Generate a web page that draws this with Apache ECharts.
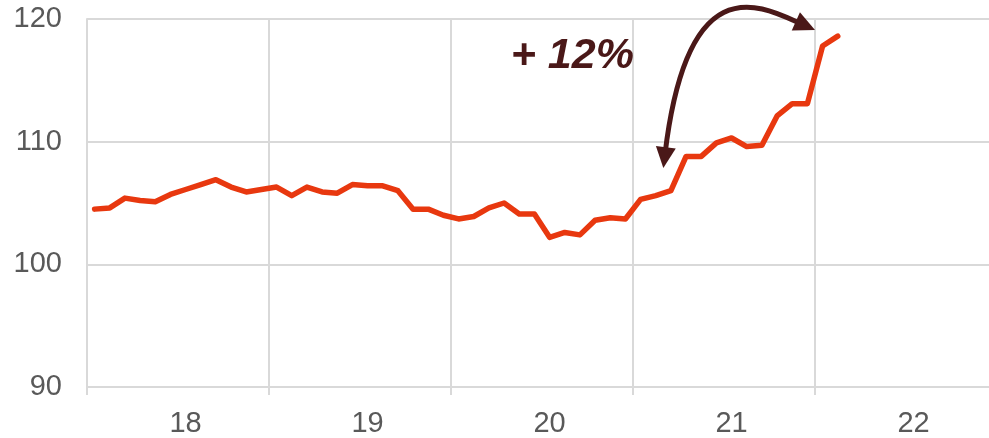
<!DOCTYPE html>
<html><head><meta charset="utf-8">
<script src="https://cdn.jsdelivr.net/npm/echarts@6/dist/echarts.min.js"></script>
<style>html,body{margin:0;padding:0;background:#fff}#c{width:989px;height:438px}</style>
</head><body><div id="c"></div>
<script>
// tick labels (years) and monthly categories
const yearLabels = ['18', '19', '20', '21', '22'];
const monthNames = ['01','02','03','04','05','06','07','08','09','10','11','12'];
const categories = [];
yearLabels.forEach(y => monthNames.forEach(m => categories.push('20' + y + '-' + m)));

// monthly index values, Jan 2018 .. Feb 2022
const values = [
  104.5, 104.6, 105.4, 105.2, 105.1, 105.7, 106.1, 106.5, 106.9, 106.3, 105.9, 106.1,
  106.3, 105.6, 106.3, 105.9, 105.8, 106.5, 106.4, 106.4, 106.0, 104.5, 104.5, 104.0,
  103.7, 103.9, 104.6, 105.0, 104.1, 104.1, 102.2, 102.6, 102.4, 103.6, 103.8, 103.7,
  105.3, 105.6, 106.0, 108.8, 108.8, 109.9, 110.3, 109.6, 109.7, 112.1, 113.1, 113.1,
  117.8, 118.6
];
const yTicks = [90, 100, 110, 120];

// annotation (category index, value)
const annotationText = '+ 12%';
const annotationPos = [31.5, 117.0];
const arrowFrom = [37.5, 107.85];
const arrowCtrl1 = [39.1, 124.4];
const arrowCtrl2 = [43.9, 121.1];
const arrowTo = [47.5, 119.1];

const gridColor = '#d9d9d9';
const labelColor = '#595959';
const lineColor = '#E8380F';
const annoColor = '#4a1818';
const fontFam = '"Liberation Sans", Arial, sans-serif';

const chart = echarts.init(document.getElementById('c'), null, {renderer: 'canvas'});
chart.setOption({
  animation: false,
  grid: {left: 87, right: -8, top: 19, bottom: 51, containLabel: false, outerBoundsMode: 'none'},
  xAxis: {
    type: 'category',
    data: categories,
    boundaryGap: true,
    axisLine: {show: true, lineStyle: {color: gridColor, width: 2}},
    axisTick: {show: true, length: 8, interval: (i) => i % 12 === 0, lineStyle: {color: gridColor, width: 2}},
    splitLine: {show: true, interval: (i) => i % 12 === 0, lineStyle: {color: gridColor, width: 2}},
    axisLabel: {
      interval: (i) => i % 12 === 6,
      formatter: (v) => v.slice(2, 4),
      color: labelColor, fontSize: 29, fontFamily: fontFam, margin: 22
    }
  },
  yAxis: {
    type: 'value', min: yTicks[0], max: yTicks[yTicks.length - 1], interval: 10,
    axisLine: {show: true, lineStyle: {color: gridColor, width: 2}},
    axisTick: {show: false},
    splitLine: {show: true, lineStyle: {color: gridColor, width: 2}},
    axisLabel: {color: labelColor, fontSize: 29, fontFamily: fontFam, margin: 25}
  },
  series: [{
    type: 'line',
    data: values,
    symbol: 'none',
    lineStyle: {color: lineColor, width: 5.5, cap: 'round', join: 'round'}
  }]
});

function toPx(p) {
  const a = chart.convertToPixel({xAxisIndex: 0, yAxisIndex: 0}, [0, p[1]]);
  const b = chart.convertToPixel({xAxisIndex: 0, yAxisIndex: 0}, [1, p[1]]);
  return [a[0] + p[0] * (b[0] - a[0]), a[1]];
}
function head(tip, from, L, W) {
  const dx = tip[0] - from[0], dy = tip[1] - from[1];
  const len = Math.hypot(dx, dy); const ux = dx / len, uy = dy / len;
  const bx = tip[0] - ux * L, by = tip[1] - uy * L;
  return {
    type: 'polygon',
    shape: {points: [tip, [bx - uy * W, by + ux * W], [bx + uy * W, by - ux * W]]},
    style: {fill: annoColor}, z: 10
  };
}
const P0 = toPx(arrowFrom), P1 = toPx(arrowCtrl1), P2 = toPx(arrowCtrl2), P3 = toPx(arrowTo);
function shorten(tip, ctrl, d) {
  const dx = ctrl[0] - tip[0], dy = ctrl[1] - tip[1];
  const len = Math.hypot(dx, dy);
  return [tip[0] + dx / len * d, tip[1] + dy / len * d];
}
const S0 = shorten(P0, P1, 14), S3 = shorten(P3, P2, 14);
const T = toPx(annotationPos);
chart.setOption({
  graphic: [
    {
      type: 'bezierCurve',
      shape: {x1: S0[0], y1: S0[1], cpx1: P1[0], cpy1: P1[1], cpx2: P2[0], cpy2: P2[1], x2: S3[0], y2: S3[1]},
      style: {stroke: annoColor, lineWidth: 5, fill: null}, z: 10
    },
    head(P0, P1, 21, 10),
    head(P3, P2, 21, 10),
    {
      type: 'text', x: T[0], y: T[1], z: 10,
      style: {
        text: annotationText, fill: annoColor, font: 'italic bold 43px ' + fontFam,
        textAlign: 'center', textVerticalAlign: 'middle'
      }
    }
  ]
});
</script>
</body></html>
